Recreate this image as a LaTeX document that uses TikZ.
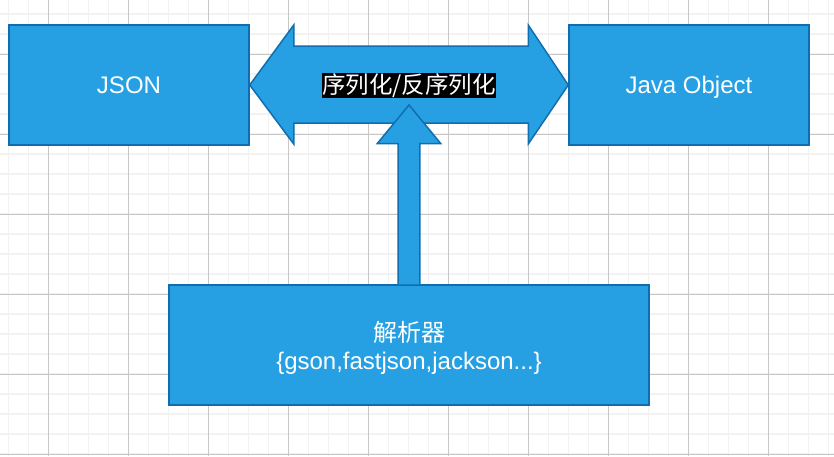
\documentclass[tikz,border=0pt]{standalone}
\usepackage{fontspec}
\setmainfont{Liberation Sans}
\newfontfamily\cjk{Noto Sans CJK SC}
\usetikzlibrary{calc}
\definecolor{boxfill}{RGB}{38,160,226}
\definecolor{boxline}{RGB}{16,110,175}
\tikzset{
  minorgrid/.style={draw=black!5, line width=1.5pt},
  majorgrid/.style={draw=black!22, line width=0.9pt},
  box/.style={draw=boxline, fill=boxfill, line width=1.5pt, text=white,
    minimum width=240pt, minimum height=120pt, inner sep=0pt, align=center,
    text depth=0pt, font=\fontsize{24}{28}\selectfont},
  blockarrow/.style={draw=boxline, fill=boxfill, line width=1.5pt, line join=miter},
}

\begin{document}
\begin{tikzpicture}[x=1pt, y=-1pt]
  \useasboundingbox (0,0) rectangle (834,456);
  \fill[white] (0,0) rectangle (834,456);
  \foreach \i in {0,...,41} \draw[minorgrid] (8.7+20*\i,0) -- (8.7+20*\i,456);
  \foreach \j in {0,...,22} \draw[minorgrid] (0,14+20*\j) -- (834,14+20*\j);
  \foreach \i in {0,...,9} \draw[majorgrid] (48.7+80*\i,0) -- (48.7+80*\i,456);
  \foreach \j in {0,...,5} \draw[majorgrid] (0,54+80*\j) -- (834,54+80*\j);

  \node[box] at (129,85) (json) {JSON};
  \node[box] at ($(json) + (560,0)$) (java) {Java Object};
  \node[box, minimum width=480pt] at ($(json) + (280,260)$) (parser)
    {{\cjk 解析器}\\\{gson,fastjson,jackson...\}};

  \draw[blockarrow] (json.east) -- ($(json.east) + (44,-60)$) -- ($(json.east) + (44,-39)$)
    -- ($(java.west) + (-40,-39)$) -- ($(java.west) + (-40,-60)$) -- (java.west)
    -- ($(java.west) + (-40,59)$) -- ($(java.west) + (-40,38)$)
    -- ($(json.east) + (44,38)$) -- ($(json.east) + (44,59)$) -- cycle;
  \coordinate (tip) at ($(parser.north) + (0,-179.3)$);
  \draw[blockarrow] ($(parser.north) + (-10.8,0)$) -- ($(parser.north) + (-10.8,-140.7)$)
    -- ($(parser.north) + (-31.7,-140.7)$) -- (tip) -- ($(parser.north) + (31.7,-140.7)$)
    -- ($(parser.north) + (10.8,-140.7)$) -- ($(parser.north) + (10.8,0)$);

  \node[fill=black, text=white, inner sep=0.5pt, font=\cjk\fontsize{23.5}{26}\selectfont]
    at ($(json)!0.5!(java) + (0,0.5)$) (conv) {序列化/反序列化};
\end{tikzpicture}
\end{document}
